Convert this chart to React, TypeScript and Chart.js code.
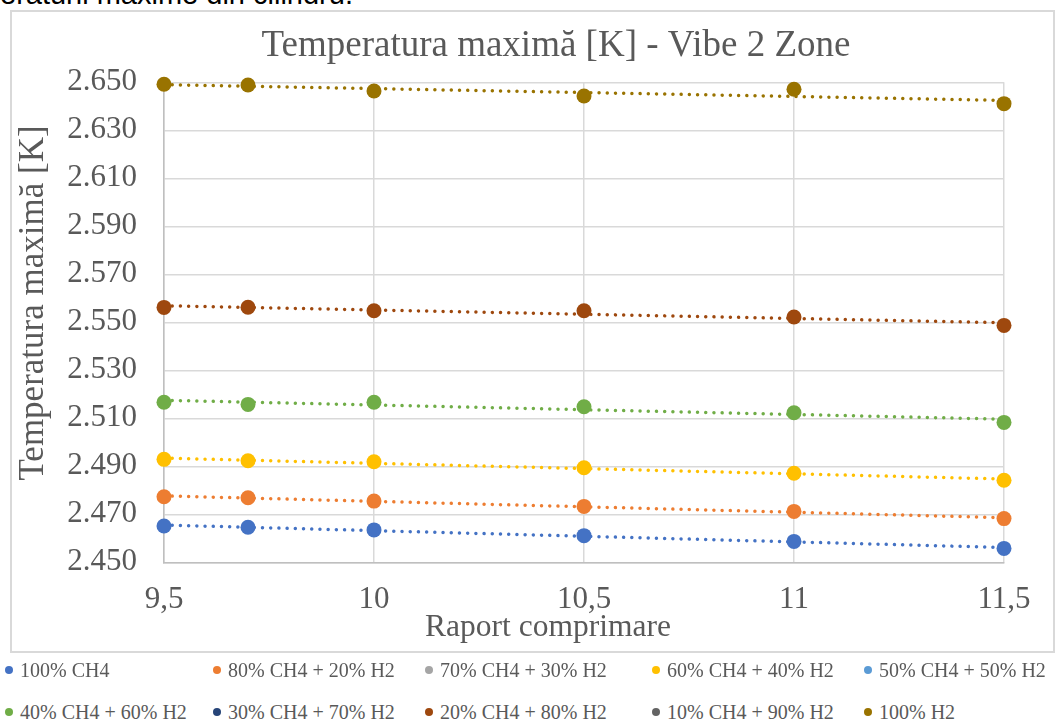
import React, { useEffect, useRef } from "react";
import { Chart, registerables } from "chart.js";

Chart.register(...registerables);

// ---- data ----
const xValues = [9.5, 9.7, 10, 10.5, 11, 11.5];
const seriesNames = [
  "100% CH4",
  "80% CH4 + 20% H2",
  "70% CH4 + 30% H2",
  "60% CH4 + 40% H2",
  "50% CH4 + 50% H2",
  "40% CH4 + 60% H2",
  "30% CH4 + 70% H2",
  "20% CH4 + 80% H2",
  "10% CH4 + 90% H2",
  "100% H2",
];
const seriesColors = [
  "#4472C4",
  "#ED7D31",
  "#A5A5A5",
  "#FFC000",
  "#5B9BD5",
  "#70AD47",
  "#264478",
  "#9E480E",
  "#636363",
  "#997300",
];
const ch4_100 = [2465.1, 2464.6, 2463.5, 2461.1, 2458.7, 2455.8];
const ch4_80 = [2477.3, 2476.9, 2475.5, 2473.3, 2471.2, 2468.2];
const ch4_70: number[] = [];
const ch4_60 = [2492.9, 2492.3, 2491.9, 2489.4, 2487.1, 2484.2];
const ch4_50: number[] = [];
const ch4_40 = [2516.7, 2515.8, 2516.7, 2514.8, 2512.3, 2508.3];
const ch4_30: number[] = [];
const ch4_20 = [2556.2, 2556.3, 2554.8, 2554.8, 2552.2, 2548.7];
const ch4_10: number[] = [];
const h2_100 = [2649.2, 2648.9, 2646.4, 2644.3, 2647.1, 2641.1];
const seriesValues = [ch4_100, ch4_80, ch4_70, ch4_60, ch4_50, ch4_40, ch4_30, ch4_20, ch4_10, h2_100];

const chartTitle = "Temperatura maximă [K] - Vibe 2 Zone";
const xTitle = "Raport comprimare";
const yTitle = "Temperatura maximă [K]";
const yMin = 2450;
const yMax = 2650;
const yStep = 20;
const xMin = 9.5;
const xMax = 11.5;
const xStep = 0.5;
const topText = "eraturii maxime din cilindru.";

const SERIF = '"Liberation Serif", "Times New Roman", serif';
const GREY_TEXT = "#595959";

function trend(values: number[]) {
  const n = values.length;
  const xs = xValues.slice(0, n);
  const mx = xs.reduce((a, b) => a + b, 0) / n;
  const my = values.reduce((a, b) => a + b, 0) / n;
  let sxy = 0;
  let sxx = 0;
  for (let i = 0; i < n; i++) {
    sxy += (xs[i] - mx) * (values[i] - my);
    sxx += (xs[i] - mx) * (xs[i] - mx);
  }
  const b = sxy / sxx;
  const a = my - b * mx;
  return [
    { x: xs[0], y: a + b * xs[0] },
    { x: xs[n - 1], y: a + b * xs[n - 1] },
  ];
}

// Draws the chart title and the axis titles at the positions used by the original
const titlesPlugin = {
  id: "titlesCustom",
  afterDraw(chart: any) {
    const ctx = chart.ctx;
    ctx.save();
    ctx.fillStyle = GREY_TEXT;
    ctx.textAlign = "center";
    ctx.textBaseline = "middle";
    ctx.font = `37px ${SERIF}`;
    ctx.fillText(chart.options.plugins.title.text, 556, 46);
    ctx.font = `31.5px ${SERIF}`;
    ctx.fillText(chart.options.scales.x.title.text, 548, 628);
    ctx.translate(34, 303);
    ctx.rotate(-Math.PI / 2);
    ctx.font = `35px ${SERIF}`;
    ctx.fillText(chart.options.scales.y.title.text, 0, 0);
    ctx.restore();
  },
};

export default function App() {
  const canvasRef = useRef<HTMLCanvasElement | null>(null);

  useEffect(() => {
    if (!canvasRef.current) return;
    const datasets: any[] = [];
    seriesNames.forEach((name, i) => {
      const vals = seriesValues[i];
      datasets.push({
        type: "scatter",
        label: name,
        data: vals.map((v, j) => ({ x: xValues[j], y: v })),
        backgroundColor: seriesColors[i],
        borderColor: seriesColors[i],
        pointRadius: 7.5,
        pointBorderWidth: 0,
        pointHoverRadius: 7.5,
        showLine: false,
        clip: false,
        order: 0,
      });
    });
    seriesNames.forEach((name, i) => {
      const vals = seriesValues[i];
      if (vals.length < 2) return;
      datasets.push({
        type: "line",
        label: name + " trend",
        data: trend(vals),
        borderColor: seriesColors[i],
        backgroundColor: seriesColors[i],
        borderWidth: 3.5,
        borderDash: [0.01, 8.2],
        borderCapStyle: "round",
        pointRadius: 0,
        fill: false,
        clip: false,
        order: 1,
      });
    });

    const chart = new Chart(canvasRef.current, {
      type: "scatter",
      data: { datasets },
      plugins: [titlesPlugin],
      options: {
        animation: false,
        responsive: false,
        maintainAspectRatio: false,
        layout: { padding: { left: 0, right: 58, top: 82.3, bottom: 0 } },
        plugins: {
          legend: { display: false },
          tooltip: { enabled: false },
          title: { display: false, text: chartTitle },
        },
        scales: {
          x: {
            type: "linear",
            min: xMin,
            max: xMax,
            afterFit: (scale: any) => {
              scale.height = 660 - 562.3;
            },
            ticks: {
              stepSize: xStep,
              padding: 19,
              color: GREY_TEXT,
              font: { family: SERIF, size: 31 },
              maxRotation: 0,
              callback: (v: any) => String(v).replace(".", ","),
            },
            grid: { color: "#d9d9d9", lineWidth: 1.5, drawTicks: false },
            border: { color: "#bfbfbf", width: 1.5 },
            title: { display: false, text: xTitle },
          },
          y: {
            type: "linear",
            min: yMin,
            max: yMax,
            afterFit: (scale: any) => {
              scale.width = 164;
            },
            ticks: {
              stepSize: yStep,
              padding: 27,
              color: GREY_TEXT,
              font: { family: SERIF, size: 31 },
              callback: (v: any) => Number(v).toLocaleString("de-DE"),
            },
            grid: { color: "#d9d9d9", lineWidth: 1.5, drawTicks: false },
            border: { color: "#bfbfbf", width: 1.5 },
            title: { display: false, text: yTitle },
          },
        },
      } as any,
    });
    return () => chart.destroy();
  }, []);

  const colLefts = [5, 213, 425, 652, 864];
  const rowCenters = [670, 712];

  return (
    <div
      style={{
        position: "absolute",
        left: 0,
        top: 0,
        width: 1062,
        height: 722,
        overflow: "hidden",
        background: "#ffffff",
      }}
    >
      <div
        style={{
          position: "absolute",
          left: 0,
          top: -20,
          fontFamily: '"Liberation Sans", Arial, sans-serif',
          fontSize: 29,
          lineHeight: "29px",
          color: "#000",
          whiteSpace: "nowrap",
        }}
      >
        {topText}
      </div>
      <div
        style={{
          position: "absolute",
          left: 10,
          top: 10,
          width: 1045,
          height: 643,
          border: "2px solid #d9d9d9",
          boxSizing: "border-box",
        }}
      />
      <canvas
        ref={canvasRef}
        width={1062}
        height={660}
        style={{ position: "absolute", left: 0, top: 0, width: 1062, height: 660 }}
      />
      {seriesNames.map((name, i) => {
        const row = Math.floor(i / 5);
        const col = i % 5;
        return (
          <div
            key={name}
            style={{
              position: "absolute",
              left: colLefts[col],
              top: rowCenters[row] - 12,
              height: 24,
              display: "flex",
              alignItems: "center",
              whiteSpace: "nowrap",
              fontFamily: SERIF,
              fontSize: 20,
              lineHeight: "24px",
              color: GREY_TEXT,
            }}
          >
            <span
              style={{
                display: "inline-block",
                width: 8,
                height: 8,
                borderRadius: "50%",
                background: seriesColors[i],
                marginRight: 7,
              }}
            />
            <span>{name}</span>
          </div>
        );
      })}
    </div>
  );
}
